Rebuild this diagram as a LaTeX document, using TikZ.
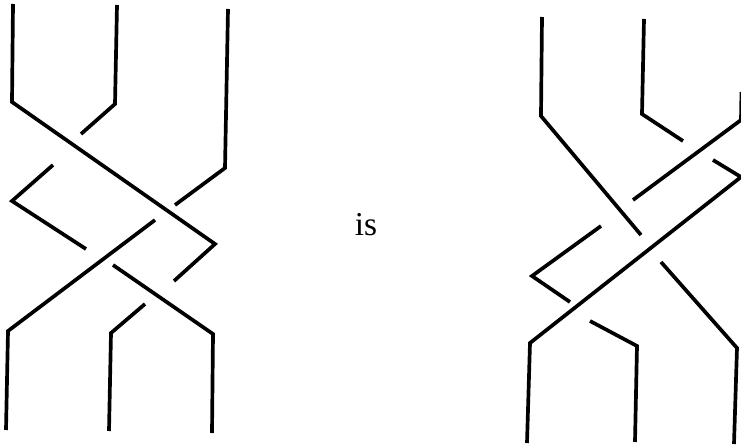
\documentclass[tikz,border=0pt]{standalone}
\usepackage{fontspec}
\setmainfont{Liberation Serif}
\tikzset{
  strand/.style={line width=2.1pt, line join=miter, black},
  word/.style={font=\fontsize{19}{22}\selectfont, inner sep=0pt}
}
\begin{document}
\begin{tikzpicture}[x=0.02cm, y=-0.02cm]
  \useasboundingbox (0,0) rectangle (741,446);
  % Left braid
  \draw[strand] (13,4) -- (12,102) -- (215,244) -- (174,281);
  \draw[strand] (117,5) -- (115,104) -- (81,134);
  \draw[strand] (53,165) -- (12,201) -- (86,249);
  \draw[strand] (228,9) -- (225,168) -- (175,205);
  \draw[strand] (155,220) -- (8,331) -- (6,430);
  \draw[strand] (113,265) -- (213,334) -- (212,433);
  \draw[strand] (145,304) -- (111,333) -- (109,431);

  % Middle word
  \node (is) [word] at (366,225) {is};

  % Right braid
  \draw[strand] (542,17) -- (541,116) -- (641,235);
  \draw[strand] (644,19) -- (642,114) -- (683,141);
  \draw[strand] (633,200) -- (741,120) -- (741.5,92);
  \draw[strand] (713,160) -- (741,177) -- (530,343) -- (527,443);
  \draw[strand] (601,226) -- (532,276) -- (570,302);
  \draw[strand] (590,321) -- (637,346) -- (635,442);
  \draw[strand] (661,262) -- (737,348) -- (734,444);
\end{tikzpicture}
\end{document}
